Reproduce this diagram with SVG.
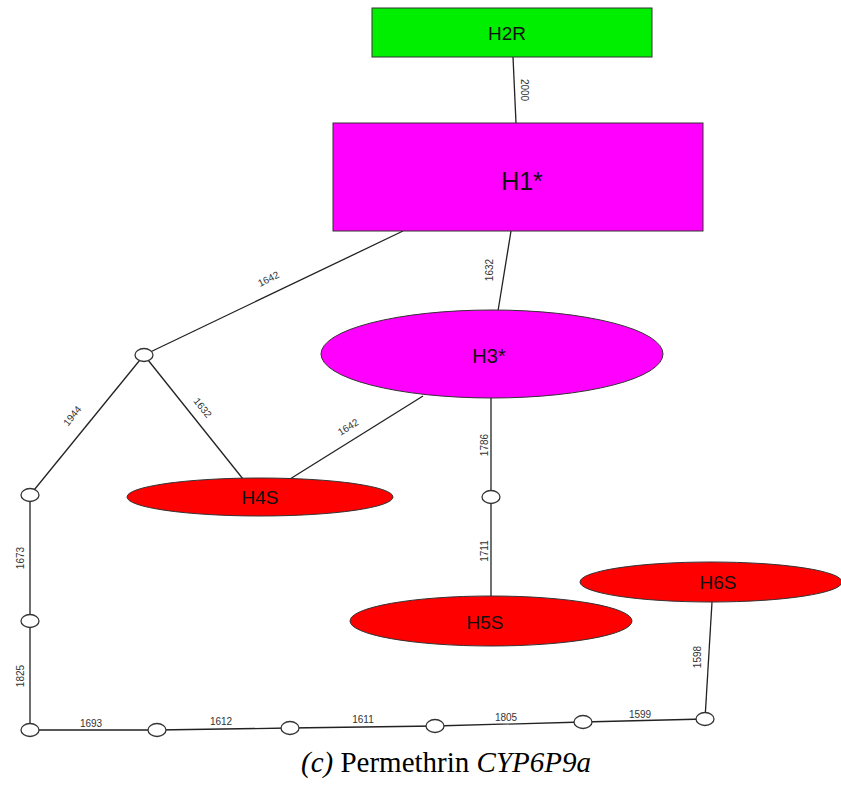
<svg xmlns="http://www.w3.org/2000/svg" width="841" height="787" viewBox="0 0 841 787">
<style>
.e{stroke:#222;stroke-width:1.3;fill:none}
.el{font-family:"Liberation Sans",Arial,sans-serif;font-size:10px;fill:#333;text-anchor:middle}
.nl{font-family:"Liberation Sans",Arial,sans-serif;font-size:19px;fill:#111;text-anchor:middle}
.sn{fill:#fff;stroke:#333;stroke-width:1.3}
.red{fill:#ff0000;stroke:#333;stroke-width:1}
.mag{fill:#ff00ff;stroke:#333;stroke-width:1}
.cap{font-family:"Liberation Serif","Times New Roman",serif;font-size:29px;fill:#000}
</style>
<rect width="841" height="787" fill="#fff"/>
<g id="connectors">
<line class="e" x1="513" y1="57" x2="516" y2="123"/>
<line class="e" x1="403" y1="231" x2="144" y2="355"/>
<line class="e" x1="511" y1="231" x2="498" y2="311"/>
<line class="e" x1="144" y1="355" x2="30" y2="495"/>
<line class="e" x1="144" y1="355" x2="243" y2="479"/>
<line class="e" x1="423" y1="396" x2="290" y2="479"/>
<line class="e" x1="491" y1="398" x2="491" y2="596"/>
<line class="e" x1="712" y1="602" x2="705" y2="719"/>
<polyline class="e" points="30,495 30,730 157,730 290,728 435,726 583,722 705,719"/>
<text class="el" transform="translate(521,90) rotate(90)">2000</text>
<text class="el" transform="translate(270,282) rotate(-26)">1642</text>
<text class="el" transform="translate(493,270) rotate(-90)">1632</text>
<text class="el" transform="translate(75,418) rotate(-51)">1944</text>
<text class="el" transform="translate(200,410) rotate(51)">1632</text>
<text class="el" transform="translate(350,430) rotate(-32)">1642</text>
<text class="el" transform="translate(488,445) rotate(-90)">1786</text>
<text class="el" transform="translate(488,551) rotate(-90)">1711</text>
<text class="el" transform="translate(701,657) rotate(-90)">1598</text>
<text class="el" transform="translate(24,558) rotate(-90)">1673</text>
<text class="el" transform="translate(24,676) rotate(-90)">1825</text>
<text class="el" x="91" y="727">1693</text>
<text class="el" x="221" y="725">1612</text>
<text class="el" x="363" y="723">1611</text>
<text class="el" x="506" y="721">1805</text>
<text class="el" x="640" y="718">1599</text>
</g>
<g id="H2R"><rect x="372" y="8" width="280" height="49" fill="#00ee00" stroke="#333" stroke-width="1"/><text class="nl" x="507" y="40">H2R</text></g>
<g id="H1"><rect x="333" y="123" width="370" height="108" class="mag"/><text class="nl" x="522" y="190" style="font-size:25px">H1*</text></g>
<g id="H3"><ellipse cx="492" cy="354" rx="171" ry="44" class="mag"/><text class="nl" x="489" y="363" style="font-size:20px">H3*</text></g>
<g id="H4S"><ellipse cx="260" cy="497" rx="133" ry="19" class="red"/><text class="nl" x="260" y="504">H4S</text></g>
<g id="H5S"><ellipse cx="491" cy="621" rx="141" ry="25" class="red"/><text class="nl" x="485" y="629">H5S</text></g>
<g id="H6S"><ellipse cx="711" cy="582" rx="131" ry="20" class="red"/><text class="nl" x="718" y="589">H6S</text></g>
<g id="m1"><ellipse class="sn" cx="144" cy="355" rx="9" ry="6.5"/></g>
<g id="m2"><ellipse class="sn" cx="30" cy="495" rx="9" ry="6.5"/></g>
<g id="m3"><ellipse class="sn" cx="30" cy="621" rx="9" ry="6.5"/></g>
<g id="m4"><ellipse class="sn" cx="30" cy="730" rx="9" ry="6.5"/></g>
<g id="m5"><ellipse class="sn" cx="157" cy="730" rx="9" ry="6.5"/></g>
<g id="m6"><ellipse class="sn" cx="290" cy="728" rx="9" ry="6.5"/></g>
<g id="m7"><ellipse class="sn" cx="435" cy="726" rx="9" ry="6.5"/></g>
<g id="m8"><ellipse class="sn" cx="583" cy="722" rx="9" ry="6.5"/></g>
<g id="m9"><ellipse class="sn" cx="705" cy="719" rx="9" ry="6.5"/></g>
<g id="m10"><ellipse class="sn" cx="491" cy="497" rx="9" ry="6.5"/></g>
<text class="cap" x="446" y="772" text-anchor="middle"><tspan font-style="italic">(c)</tspan> Permethrin <tspan font-style="italic">CYP6P9a</tspan></text>
</svg>
